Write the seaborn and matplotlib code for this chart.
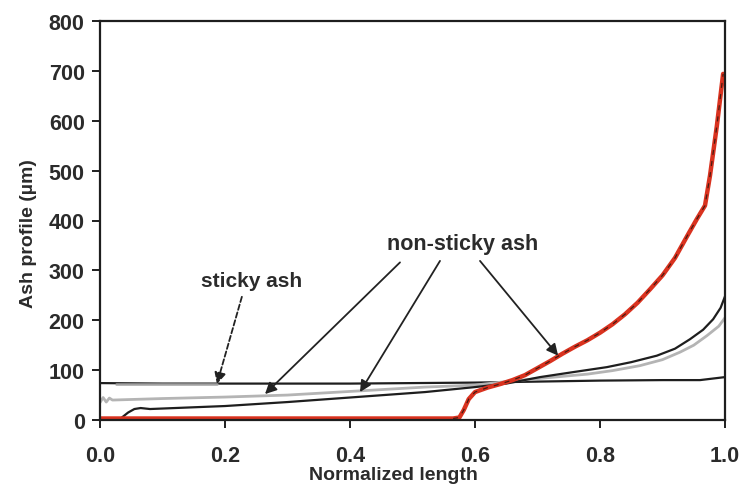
import numpy as np
import pandas as pd
import matplotlib
matplotlib.use("Agg")
import matplotlib.pyplot as plt
import seaborn as sns

# ---- data ----
sticky_x = [0.0, 0.1, 0.2, 0.3, 0.4, 0.5, 0.6, 0.7, 0.8, 0.9, 0.96, 0.98, 1.0]
sticky_y = [74, 73, 73, 73, 73, 74, 75, 77, 79, 80, 80, 83, 86]

light_x = [0.0, 0.005, 0.01, 0.015, 0.02, 0.1, 0.2, 0.3, 0.41, 0.52, 0.6, 0.65, 0.7,
           0.78, 0.82, 0.864, 0.9, 0.928, 0.95, 0.971, 0.99, 1.0]
light_y = [35, 45, 36, 44, 40, 43, 46, 50, 58, 66, 70, 77, 83, 92, 99, 109, 121, 136,
           150, 169, 188, 205]

dark_x = [0.03, 0.035, 0.045, 0.055, 0.065, 0.08, 0.1, 0.2, 0.3, 0.41, 0.52, 0.6, 0.65,
          0.704, 0.757, 0.811, 0.85, 0.891, 0.92, 0.944, 0.965, 0.981, 0.993, 1.0]
dark_y = [0, 5, 15, 22, 24, 22, 23, 28, 36, 46, 56, 66, 73, 86, 96, 106, 116, 129, 143,
          162, 181, 202, 225, 248]

red_x = [0.0, 0.565, 0.575, 0.582, 0.59, 0.6, 0.62, 0.64, 0.66, 0.68, 0.70, 0.72, 0.74,
         0.76, 0.78, 0.80, 0.82, 0.84, 0.86, 0.88, 0.90, 0.92, 0.94, 0.955, 0.968,
         0.976, 0.987, 0.997]
red_y = [3, 3, 5, 20, 42, 56, 65, 72, 80, 90, 104, 118, 133, 147, 160, 175, 192, 212,
         235, 262, 290, 325, 370, 403, 430, 490, 590, 694]

x_ticks = [0.0, 0.2, 0.4, 0.6, 0.8, 1.0]
y_ticks = [0, 100, 200, 300, 400, 500, 600, 700, 800]

# ---- styling ----
sns.set_theme(style="ticks")
plt.rcParams['font.family'] = ['Liberation Sans', 'DejaVu Sans']

fig = plt.figure(figsize=(7.42, 4.89), dpi=100)
ax = fig.add_axes([100 / 742, 1 - 421 / 489, 625 / 742, 399 / 489])

tc = "#2b2b2b"

sns.lineplot(x=sticky_x, y=sticky_y, ax=ax, color="#1e1e1e", linewidth=1.6)
sns.lineplot(x=[0.025, 0.187], y=[72, 72], ax=ax, color="#a0a0a0", linewidth=1.8)

sns.lineplot(x=light_x, y=light_y, ax=ax, color="#b4b4b4", linewidth=2.0)
sns.lineplot(x=dark_x, y=dark_y, ax=ax, color="#1e1e1e", linewidth=1.6)

sns.lineplot(x=red_x, y=red_y, ax=ax, color="#d9321f", linewidth=3.2)
rx = np.array(red_x); ry = np.array(red_y)
mask = rx >= 0.565
sns.lineplot(x=rx[mask], y=ry[mask], ax=ax, color="#4a1a10", linewidth=0.9,
             linestyle=(0, (4, 5)))

ax.set_xlim(0, 1.0)
ax.set_ylim(0, 800)
ax.set_xticks(x_ticks)
ax.set_yticks(y_ticks)
ax.set_xticklabels([f"{v:.1f}" for v in x_ticks])
ax.set_yticklabels([str(v) for v in y_ticks])

for s in ax.spines.values():
    s.set_visible(True)
    s.set_linewidth(1.6)
    s.set_color("#1e1e1e")

ax.tick_params(axis='y', direction='out', length=6, width=1.4, color="#1e1e1e",
               labelsize=15.5, labelcolor=tc, pad=5)
ax.tick_params(axis='x', direction='out', length=6, width=1.4, color="#1e1e1e",
               labelsize=15.5, labelcolor=tc, pad=12)
for lab in ax.get_xticklabels() + ax.get_yticklabels():
    lab.set_fontweight('bold')

ax.set_xlabel("Normalized length", fontsize=14, fontweight='bold', color=tc)
ax.set_ylabel("Ash profile (µm)", fontsize=14, fontweight='bold', color=tc)
ax.xaxis.set_label_coords(0.47, -0.115)
ax.yaxis.set_label_coords(-0.1, 0.47)

# ---- annotations ----
ax.text(0.242, 280, "sticky ash", fontsize=15, fontweight='bold', color=tc,
        ha='center', va='center')
ax.text(0.58, 354, "non-sticky ash", fontsize=15.5, fontweight='bold', color=tc,
        ha='center', va='center')

ap_solid = dict(arrowstyle='-|>', color="#222222", lw=1.3, mutation_scale=17,
                shrinkA=0, shrinkB=0)
ap_dash = dict(arrowstyle='-|>', color="#222222", lw=1.3, mutation_scale=17,
               shrinkA=0, shrinkB=0, linestyle=(0, (3, 1.5)))
ax.annotate("", xy=(0.187, 72), xytext=(0.227, 247), arrowprops=ap_dash)
ax.annotate("", xy=(0.264, 52), xytext=(0.48, 316), arrowprops=ap_solid)
ax.annotate("", xy=(0.416, 56), xytext=(0.544, 319), arrowprops=ap_solid)
ax.annotate("", xy=(0.733, 129), xytext=(0.608, 319), arrowprops=ap_solid)

fig.savefig("out.png", dpi=100)
